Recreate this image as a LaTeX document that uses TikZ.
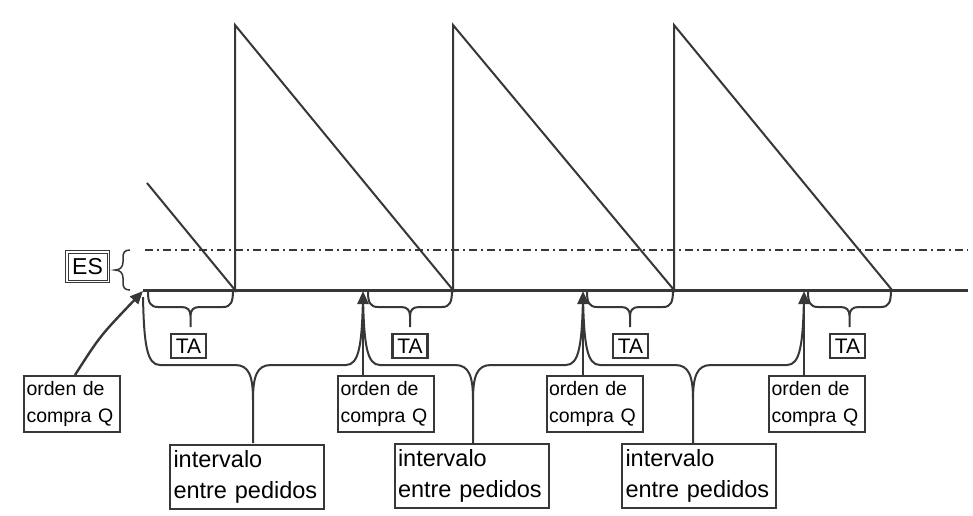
\documentclass[tikz,border=0pt]{standalone}
\usepackage{fontspec}
\setmainfont{Liberation Sans}
\usetikzlibrary{arrows.meta}
\definecolor{ink}{RGB}{55,55,55}

% brace under the lead time: left x, right x, tip x
\newcommand{\tabrace}[3]{%
  \draw[brace line] (#1,292) .. controls (#1,302) and (#1+2,307) .. (#1+10,307)
    -- (#3-9,307) .. controls (#3-3,307) and (#3,310) .. (#3,316) -- (#3,327)
    (#3,316) .. controls (#3,310) and (#3+3,307) .. (#3+9,307)
    -- (#2-10,307) .. controls (#2-2,307) and (#2,302) .. (#2,290);}
% brace spanning two orders: left x, right x, tip x
\newcommand{\ivbrace}[3]{%
  \draw[brace line] (#1,297) .. controls (#1+1,345) and (#1+4,365) .. (#1+17,365)
    -- (#3-18,365) .. controls (#3-4,365) and (#3,376) .. (#3,400) -- (#3,443)
    (#3,400) .. controls (#3,376) and (#3+4,365) .. (#3+18,365)
    -- (#2-17,365) .. controls (#2-4,365) and (#2-1,345) .. (#2,297);}

\begin{document}
\begin{tikzpicture}[x=1pt,y=-1pt,
  saw/.style={draw=ink, line width=2pt, line join=miter},
  axis line/.style={draw=ink, line width=3pt},
  safety line/.style={draw=ink, line width=1.6pt, dash pattern=on 8pt off 4pt on 2pt off 4pt},
  brace line/.style={draw=ink, line width=2pt},
  order arrow/.style={draw=ink, line width=2.4pt, -{Triangle[length=13pt,width=11pt]}},
  tabox/.style={draw=ink, line width=2.2pt, minimum width=35pt, minimum height=24pt,
    inner sep=0pt, font=\fontsize{21}{21}\selectfont},
  esbox/.style={draw=ink, line width=1pt, double=white, double distance=1.5pt,
    minimum width=41.5pt, minimum height=29.5pt, inner sep=0pt,
    font=\fontsize{23}{23}\selectfont},
  orderbox/.style={draw=ink, line width=2pt, text width=91pt, inner xsep=2.5pt,
    inner ysep=0pt, minimum height=56pt, align=left,
    font=\fontsize{19.5}{27}\selectfont},
  intbox/.style={draw=ink, line width=2pt, text width=147pt, inner xsep=3.5pt,
    inner ysep=0pt, minimum height=64pt, align=left,
    font=\fontsize{23.5}{31}\selectfont}]

\fill[white] (0,0) rectangle (973,515);
\useasboundingbox (0,0) rectangle (973,515);

% order points, arrivals and peaks
\coordinate (q1) at (143,291);
\coordinate (q2) at (363,291);
\coordinate (q3) at (583,291);
\coordinate (q4) at (804,291);
\coordinate (a1) at (235,290);
\coordinate (a2) at (453,290);
\coordinate (a3) at (674,290);
\coordinate (a4) at (892,290);
\coordinate (t1) at (235,25);
\coordinate (t2) at (453,25);
\coordinate (t3) at (674,25);
\coordinate (s0) at (147,183);

% safety stock level and zero level
\draw[safety line] (145,250) -- (968,250);
\draw[axis line] (143,290) -- (968,290);

% inventory sawtooth
\draw[saw] (s0) -- (a1) -- (t1) -- (a2) -- (t2) -- (a3) -- (t3) -- (a4);

% safety stock label
\node[esbox] (es) at (87.5,266.5) {ES};
\draw[draw=ink, line width=1.5pt] (130,250) .. controls (124,250) and (123,253) .. (123,258)
  -- (123,262) .. controls (123,267) and (120,270) .. (115,270)
  .. controls (120,270) and (123,273) .. (123,278) -- (123,282)
  .. controls (123,287) and (124,290) .. (130,290);

% lead times
\tabrace{148}{233}{190.5}
\tabrace{368}{452}{410}
\tabrace{587}{673}{630}
\tabrace{808}{891}{849.5}
\node[tabox] (ta1) at (188.5,346) {TA};
\node[tabox] (ta2) at (410,346) {TA};
\node[tabox] (ta3) at (630.5,346) {TA};
\node[tabox] (ta4) at (847.5,346) {TA};

% order intervals
\ivbrace{143}{363}{253}
\ivbrace{363}{583}{473}
\ivbrace{583}{804}{693}
\node[intbox] (iv1) at (247,477) {intervalo\\entre pedidos};
\node[intbox] (iv2) at (471.5,476) {intervalo\\entre pedidos};
\node[intbox] (iv3) at (699,476) {intervalo\\entre pedidos};

% purchase orders
\node[orderbox] (o1) at (72,404) {orden de\\compra Q};
\node[orderbox] (o2) at (386,404) {orden de\\compra Q};
\node[orderbox] (o3) at (594.5,404) {orden de\\compra Q};
\node[orderbox] (o4) at (817,404) {orden de\\compra Q};
\coordinate (o1top) at (75,375);
\draw[order arrow] (o1top) .. controls (100,336) .. (q1);
\draw[order arrow] (o2.north -| q2) -- (q2);
\draw[order arrow] (o3.north -| q3) -- (q3);
\draw[order arrow] (o4.north -| q4) -- (q4);
\end{tikzpicture}
\end{document}
